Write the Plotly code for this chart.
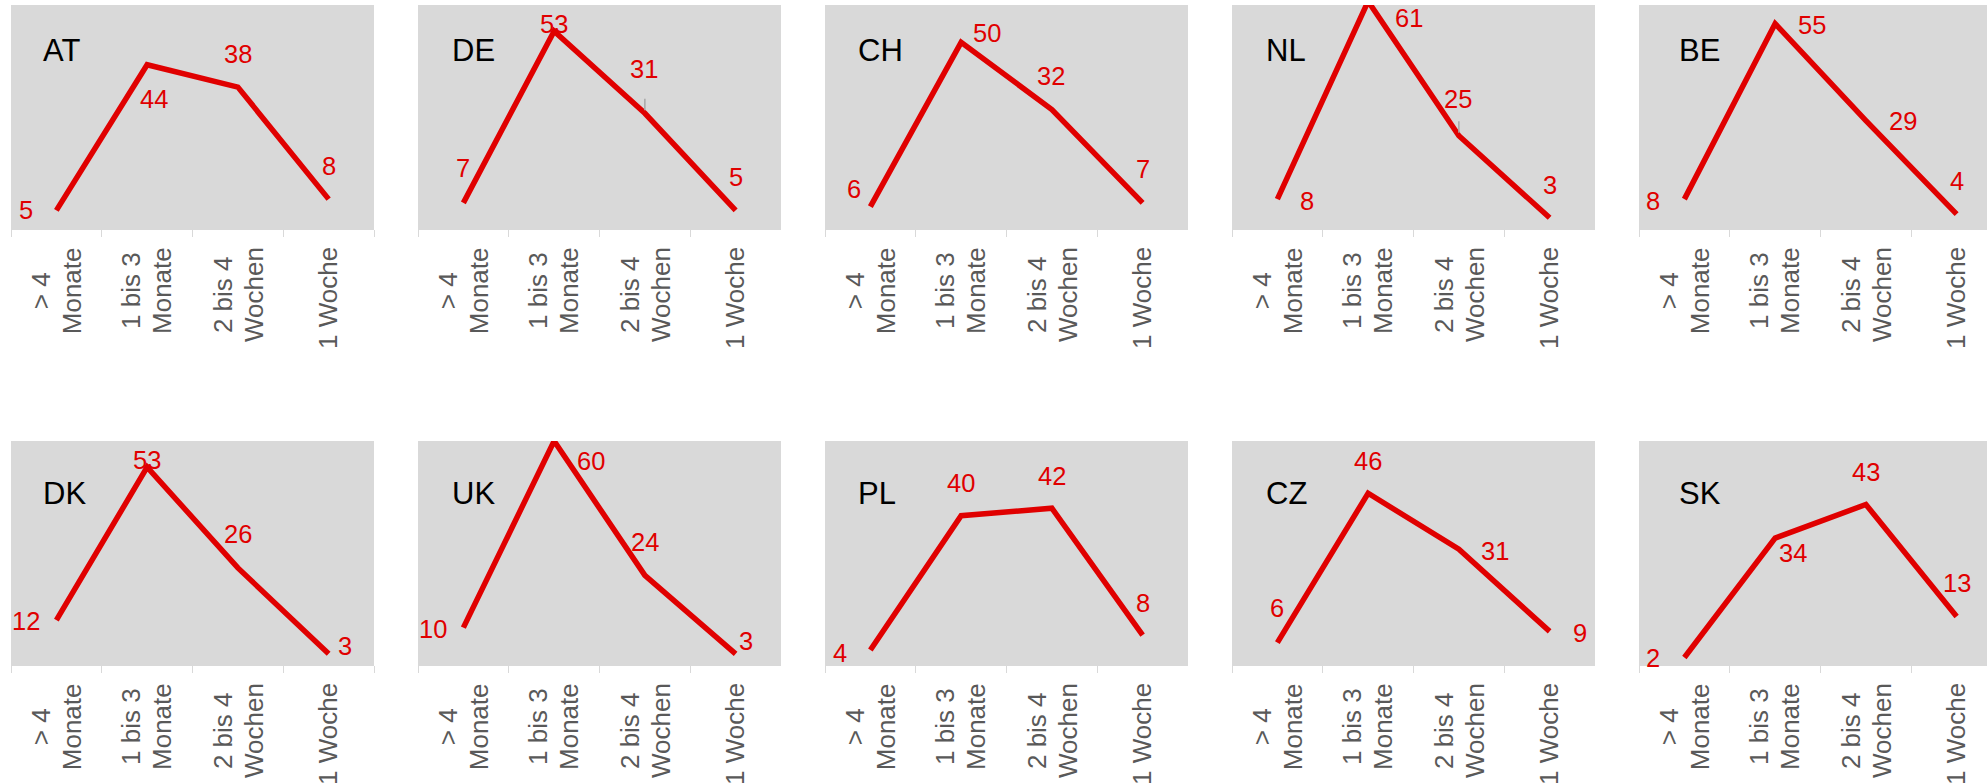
import plotly.graph_objects as go

# ---------------------------------------------------------------- data
categories = ["> 4 Monate", "1 bis 3 Monate", "2 bis 4 Wochen", "1 Woche"]
tick_label_lines = [["> 4", "Monate"], ["1 bis 3", "Monate"], ["2 bis 4", "Wochen"], ["1 Woche"]]

countries = ["AT", "DE", "CH", "NL", "BE", "DK", "UK", "PL", "CZ", "SK"]

at_values = [5, 44, 38, 8]
de_values = [7, 53, 31, 5]
ch_values = [6, 50, 32, 7]
nl_values = [8, 61, 25, 3]
be_values = [8, 55, 29, 4]
dk_values = [12, 53, 26, 3]
uk_values = [10, 60, 24, 3]
pl_values = [4, 40, 42, 8]
cz_values = [6, 46, 31, 9]
sk_values = [2, 34, 43, 13]

series = {
    "AT": at_values, "DE": de_values, "CH": ch_values, "NL": nl_values,
    "BE": be_values, "DK": dk_values, "UK": uk_values, "PL": pl_values,
    "CZ": cz_values, "SK": sk_values,
}

# ---------------------------------------------------------------- styling / placement
W, H = 1987, 784
RED = "#E00000"
PANEL_BG = "#D9D9D9"
AXIS_GREY = "#D9D9D9"
TICK_TEXT = "#595959"
FONT = "Liberation Sans, Arial, sans-serif"

Y_MAX = 60
PANEL_LEFT0 = 11      # px, left edge of first column
PANEL_PITCH = 407     # px between columns
PANEL_W = 363         # px, plot-area width
PANEL_H = 224         # px, plot-area height
ROW_TOP = [5, 441]    # px, top edge of each row

TICK_FONT = 26        # px
TICK_GAP = 18         # px between axis line and start of the rotated labels
TICK_LINE_STEP = 31   # px between the lines of a wrapped category label

# advance widths (per em) of the glyphs used in the category labels
ADVANCE = {
    " ": 0.278, ">": 0.584, "1": 0.556, "2": 0.556, "3": 0.556, "4": 0.556,
    "M": 0.833, "W": 0.944, "a": 0.556, "b": 0.556, "c": 0.5, "e": 0.556,
    "h": 0.556, "i": 0.222, "n": 0.556, "o": 0.556, "s": 0.5, "t": 0.278,
}


def text_width(s, size):
    return sum(ADVANCE.get(ch, 0.556) for ch in s) * size


# data-label offsets in px from their point (dx right, dy down)
label_offsets = {
    "AT": [(-30, 0), (7, 34), (0, -33), (0, -33)],
    "DE": [(0, -34.5), (0, -7), (-1, -44), (0, -33)],
    "CH": [(-16, -17.5), (25.5, -9), (-1, -33.5), (0, -34)],
    "NL": [(30, 1.5), (41, 13), (-1, -37), (0, -33)],
    "BE": [(-31, 2), (37, 1), (37, 0.7), (0, -33.5)],
    "DK": [(-30.5, 0.7), (0, -7), (0, -33.5), (16, -8)],
    "UK": [(-30, 1.6), (37, 20), (0, -33), (10.6, -13.3)],
    "PL": [(-30, 2.5), (0, -33), (0, -32.7), (0, -32.6)],
    "CZ": [(0, -34.3), (0, -32.2), (36, 1.7), (30, 1.2)],
    "SK": [(-31, 0.5), (18, 15.4), (0, -32.5), (0, -33.2)],
}
# points whose label carries a short leader line
leader_points = {"DE": 2, "NL": 2}

# country caption placement inside each panel
caption_left = [30, 32, 31, 32, 38]   # px from panel left, per column
caption_down = [45.5, 52]             # px from panel top, per row

fig = go.Figure()
annotations = []
layout_axes = {}

for k, country in enumerate(countries):
    row, col = divmod(k, 5)
    n = k + 1
    xa = "x" if n == 1 else f"x{n}"
    ya = "y" if n == 1 else f"y{n}"
    xkey = "xaxis" if n == 1 else f"xaxis{n}"
    ykey = "yaxis" if n == 1 else f"yaxis{n}"

    left = PANEL_LEFT0 + col * PANEL_PITCH
    right = min(left + PANEL_W, W)
    top = ROW_TOP[row]
    bottom = top + PANEL_H

    # the rightmost column runs past the page edge, so only part of it is shown
    visible_span = len(categories) * (right - left) / PANEL_W

    layout_axes[xkey] = dict(
        domain=[left / W, right / W],
        anchor=ya,
        type="category",
        categoryorder="array",
        categoryarray=categories,
        range=[-0.5, -0.5 + visible_span],
        showticklabels=False,
        ticks="outside",
        tickson="boundaries",
        ticklen=7,
        tickwidth=1,
        tickcolor=AXIS_GREY,
        showline=True,
        linecolor=AXIS_GREY,
        linewidth=1,
        showgrid=False,
        zeroline=False,
        fixedrange=True,
    )
    layout_axes[ykey] = dict(
        domain=[(H - bottom) / H, (H - top) / H],
        anchor=xa,
        range=[0, Y_MAX],
        showticklabels=False,
        showgrid=False,
        zeroline=False,
        showline=False,
        ticks="",
        fixedrange=True,
    )

    vals = series[country]
    fig.add_trace(go.Scatter(
        x=categories, y=vals, mode="lines",
        line=dict(color=RED, width=5.5),
        xaxis=xa, yaxis=ya, hoverinfo="skip", showlegend=False,
    ))

    # value labels (labels of points beyond the axis top are pinned to it)
    for i, (cat, v) in enumerate(zip(categories, vals)):
        dx, dy = label_offsets[country][i]
        annotations.append(dict(
            x=cat, y=min(v, Y_MAX), xref=xa, yref=ya,
            text=str(v), showarrow=False,
            xanchor="center", yanchor="middle",
            xshift=dx, yshift=-dy,
            font=dict(family=FONT, size=25.5, color=RED),
        ))

    if country in leader_points:
        i = leader_points[country]
        annotations.append(dict(
            x=categories[i], y=vals[i], xref=xa, yref=ya,
            text="", showarrow=True, arrowhead=0, arrowwidth=1.5,
            arrowcolor="#A6A6A6", ax=0, ay=-16, standoff=3,
        ))

    # rotated category labels under each axis: lines centred on one another,
    # the longest line starting just below the axis
    for cat, lines in zip(categories, tick_label_lines):
        longest = max(text_width(s, TICK_FONT) for s in lines)
        for j, line in enumerate(lines):
            annotations.append(dict(
                x=cat, y=0, xref=xa, yref=f"{ya} domain",
                text=line, showarrow=False, textangle=-90,
                xanchor="center", yanchor="middle",
                xshift=(j - (len(lines) - 1) / 2) * TICK_LINE_STEP,
                yshift=-(TICK_GAP + longest / 2),
                font=dict(family=FONT, size=TICK_FONT, color=TICK_TEXT),
            ))

    # country caption
    annotations.append(dict(
        x=0, y=1, xref=f"{xa} domain", yref=f"{ya} domain",
        text=country, showarrow=False,
        xanchor="left", yanchor="middle",
        xshift=caption_left[col], yshift=-caption_down[row],
        font=dict(family=FONT, size=31, color="#000000"),
    ))

fig.update_layout(
    width=W, height=H,
    margin=dict(l=0, r=0, t=0, b=0),
    paper_bgcolor="white",
    plot_bgcolor=PANEL_BG,
    showlegend=False,
    annotations=annotations,
    font=dict(family=FONT),
    **layout_axes,
)

fig.write_html("out.html", config={"displayModeBar": False})
